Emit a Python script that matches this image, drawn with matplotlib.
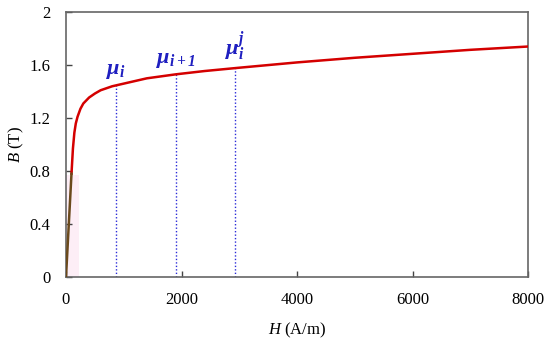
import numpy as np
import matplotlib
matplotlib.use("Agg")
import matplotlib.pyplot as plt

plt.rcParams['font.family'] = ['Liberation Serif', 'DejaVu Serif']
plt.rcParams['mathtext.fontset'] = 'custom'
plt.rcParams['mathtext.rm'] = 'Liberation Serif'
plt.rcParams['mathtext.it'] = 'Liberation Serif:italic'
plt.rcParams['mathtext.bfit'] = 'Liberation Serif:italic:bold'

# B-H curve
H = [0, 40, 95, 120, 145, 170, 200, 250, 300, 400, 500, 600, 800, 1000,
     1400, 1900, 2400, 3000, 4000, 5000, 6000, 7000, 8000]
B = [0, 0.33, 0.78, 0.97, 1.09, 1.16, 1.21, 1.27, 1.31, 1.355, 1.385, 1.41,
     1.44, 1.46, 1.50, 1.53, 1.555, 1.58, 1.62, 1.655, 1.685, 1.715, 1.74]
n_low = 3  # first points drawn in brown

# iteration markers
mu_H = [870, 1900, 2920]
mu_labels = [r'$\mathbfit{\mu_i}$', r'$\mathbfit{\mu_{i+1}}$', r'$\mathbfit{\mu_i^j}$']

xticks = [0, 2000, 4000, 6000, 8000]
yticks = [0, 0.4, 0.8, 1.2, 1.6, 2]
ytick_labels = ['0', '0.4', '0.8', '1.2', '1.6', '2']

fig = plt.figure(figsize=(5.5, 3.45), dpi=100)
ax = fig.add_axes([0.12, 0.197, 0.84, 0.768])

ax.axvspan(0, 230, ymax=0.385, color='#fdeef6', lw=0, zorder=0)

ax.plot(H[n_low - 1:], B[n_low - 1:], color='#d40000', lw=1.8, zorder=3)
ax.plot(H[:n_low], B[:n_low], color='#6b4a1c', lw=1.8, zorder=3)

for h, lab in zip(mu_H, mu_labels):
    b = np.interp(h, H, B)
    ax.plot([h, h], [0, b], color='#2b2bd8', lw=1, ls=(0, (1, 1.5)), zorder=2)
    ax.text(h, b + 0.03, lab, color='#1f1fc0', fontsize=16,
            ha='center', va='bottom')

ax.set_xlim(0, 8000)
ax.set_ylim(0, 2)
ax.set_xticks(xticks)
ax.set_yticks(yticks)
ax.set_yticklabels(ytick_labels)
ax.tick_params(direction='in', length=4, width=1, color='#444444',
               labelsize=12, pad=11)
for s in ax.spines.values():
    s.set_color('#666666')
    s.set_linewidth(1.2)

ax.set_xlabel(r'$H$ (A/m)', fontsize=12, labelpad=9)
ax.set_ylabel(r'$B$ (T)', fontsize=12, labelpad=3)

fig.savefig('out.png', dpi=100)
